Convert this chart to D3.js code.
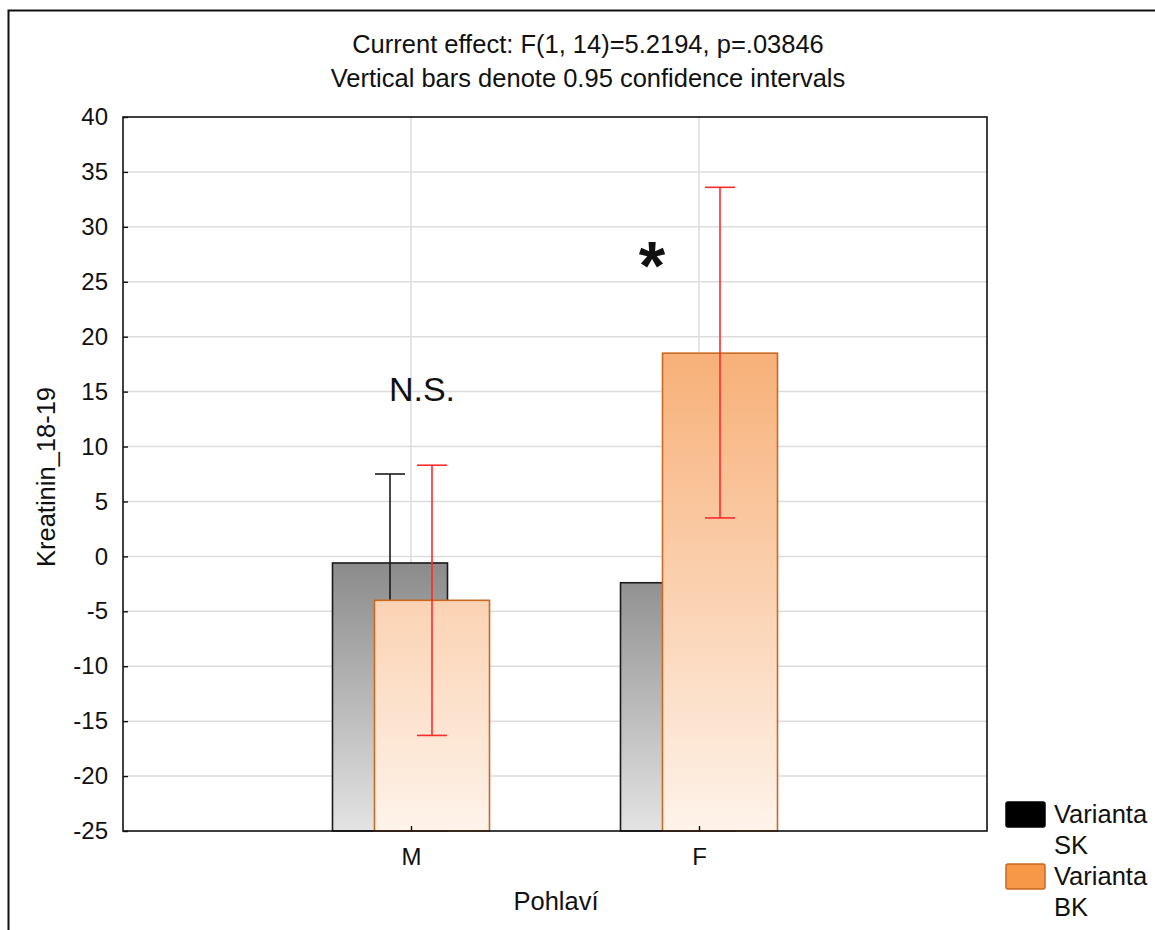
<!DOCTYPE html>
<html>
<head>
<meta charset="utf-8">
<script src="https://cdn.jsdelivr.net/npm/d3@7"></script>
<style>
  html, body { margin: 0; padding: 0; background: #fff; }
  svg { display: block; font-family: "Liberation Sans", Arial, sans-serif; }
</style>
</head>
<body>
<svg id="chart" width="1155" height="930"></svg>
<script>
// Data: group means with 0.95 confidence intervals
const categories = ["M", "F"];
const seriesNames = ["Varianta SK", "Varianta BK"];
const meansSK = [-0.6, -2.4];
const ciLowSK = [-8.7, -10.5];
const ciHighSK = [7.5, 5.7];
const meansBK = [-4.0, 18.5];
const ciLowBK = [-16.3, 3.5];
const ciHighBK = [8.3, 33.6];
const yTicks = [-25, -20, -15, -10, -5, 0, 5, 10, 15, 20, 25, 30, 35, 40];
const titleLines = ["Current effect: F(1, 14)=5.2194, p=.03846",
                    "Vertical bars denote 0.95 confidence intervals"];
const annotations = [{cat: "M", text: "N.S."}, {cat: "F", text: "*"}];

const FS = 24;     // tick labels
const FT = 25.5;   // titles and legend
const svg = d3.select("#chart");
const plot = {left: 123, top: 117, right: 987, bottom: 831};

const x = d3.scalePoint().domain(categories).range([plot.left, plot.right]).padding(1);
const y = d3.scaleLinear().domain([-25, 40]).range([plot.bottom, plot.top]);
const offset = d3.scaleOrdinal().domain(seriesNames).range([-21, 21]);
const barW = 115;

const series = [
  {name: seriesNames[0], means: meansSK, lo: ciLowSK, hi: ciHighSK,
   stroke: "#1a1a1a", err: "#1a1a1a", grad: ["#8b8b8b", "#e3e3e3"], id: "gSK"},
  {name: seriesNames[1], means: meansBK, lo: ciLowBK, hi: ciHighBK,
   stroke: "#c86a22", err: "#ff2a2a", grad: ["#f7b078", "#fef3ea"], id: "gBK"}
];

// Outer frame
svg.append("rect").attr("x", 8.5).attr("y", 10.5).attr("width", 1200).attr("height", 1000)
  .attr("fill", "none").attr("stroke", "#111").attr("stroke-width", 2);

// Gradients for the bars
const defs = svg.append("defs");
series.forEach(s => {
  const g = defs.append("linearGradient").attr("id", s.id)
    .attr("gradientUnits", "userSpaceOnUse")
    .attr("x1", 0).attr("x2", 0)
    .attr("y1", y(d3.max(s.means))).attr("y2", y(-25));
  g.append("stop").attr("offset", 0).attr("stop-color", s.grad[0]);
  g.append("stop").attr("offset", 1).attr("stop-color", s.grad[1]);
});

// Title
svg.append("g").selectAll("text").data(titleLines).join("text")
  .attr("x", 588).attr("y", (d, i) => 53 + i * 34)
  .attr("text-anchor", "middle").attr("font-size", FT).attr("fill", "#111")
  .text(d => d);

// Grid
const grid = svg.append("g").attr("stroke", "#dcdcdc").attr("stroke-width", 1.5);
grid.selectAll("line.h").data(yTicks.filter(t => t > -25 && t < 40)).join("line")
  .attr("x1", plot.left).attr("x2", plot.right)
  .attr("y1", d => y(d)).attr("y2", d => y(d));
grid.selectAll("line.v").data(categories).join("line")
  .attr("x1", d => x(d)).attr("x2", d => x(d))
  .attr("y1", plot.top).attr("y2", plot.bottom);

// Bars and error bars, series in drawing order
series.forEach(s => {
  const g = svg.append("g");
  g.selectAll("rect").data(categories).join("rect")
    .attr("x", (c) => x(c) + offset(s.name) - barW / 2)
    .attr("width", barW)
    .attr("y", (c, i) => y(s.means[i]))
    .attr("height", (c, i) => y(-25) - y(s.means[i]))
    .attr("fill", `url(#${s.id})`)
    .attr("stroke", s.stroke).attr("stroke-width", 1.6);
  const e = g.append("g").attr("stroke", s.err).attr("stroke-width", 1.6);
  categories.forEach((c, i) => {
    const cx = x(c) + offset(s.name);
    e.append("line").attr("x1", cx).attr("x2", cx).attr("y1", y(s.lo[i])).attr("y2", y(s.hi[i]));
    e.append("line").attr("x1", cx - 15).attr("x2", cx + 15).attr("y1", y(s.hi[i])).attr("y2", y(s.hi[i]));
    e.append("line").attr("x1", cx - 15).attr("x2", cx + 15).attr("y1", y(s.lo[i])).attr("y2", y(s.lo[i]));
  });
});

// Plot frame
svg.append("rect").attr("x", plot.left).attr("y", plot.top)
  .attr("width", plot.right - plot.left).attr("height", plot.bottom - plot.top)
  .attr("fill", "none").attr("stroke", "#111").attr("stroke-width", 1.6);

// Y axis (ticks point inward)
const yAxis = svg.append("g").attr("transform", `translate(${plot.left},0)`)
  .call(d3.axisLeft(y).tickValues(yTicks).tickFormat(d => String(d))
    .tickSize(-5).tickPadding(15).tickSizeOuter(0));
yAxis.select(".domain").remove();
yAxis.selectAll("line").attr("stroke", "#111").attr("stroke-width", 1.4);
yAxis.selectAll("text").attr("font-size", FS).attr("fill", "#111")
  .attr("font-family", "Liberation Sans, Arial, sans-serif");

// X axis (ticks point inward)
const xAxis = svg.append("g").attr("transform", `translate(0,${plot.bottom})`)
  .call(d3.axisBottom(x).tickSize(-5).tickPadding(17).tickSizeOuter(0));
xAxis.select(".domain").remove();
xAxis.selectAll("line").attr("stroke", "#111").attr("stroke-width", 1.4);
xAxis.selectAll("text").attr("font-size", FS).attr("fill", "#111")
  .attr("font-family", "Liberation Sans, Arial, sans-serif");

// Axis titles
svg.append("text").attr("x", 556).attr("y", 910).attr("text-anchor", "middle")
  .attr("font-size", FT).attr("fill", "#111").text("Pohlaví");
svg.append("text").attr("transform", "translate(55,477) rotate(-90)")
  .attr("text-anchor", "middle").attr("font-size", FT).attr("fill", "#111")
  .text("Kreatinin_18-19");

// Significance annotations
svg.append("text").attr("x", x("M") + 11).attr("y", 401).attr("text-anchor", "middle")
  .attr("font-size", 34).attr("fill", "#111").text(annotations[0].text);
svg.append("text").attr("x", x("F") - 47).attr("y", 289).attr("text-anchor", "middle")
  .attr("font-size", 68).attr("font-weight", "bold").attr("fill", "#111").text(annotations[1].text);

// Legend
const legend = svg.append("g");
const swatch = [{fill: "#000", stroke: "#000"}, {fill: "#f79748", stroke: "#c86a22"}];
seriesNames.forEach((name, i) => {
  const gy = 802 + i * 62;
  legend.append("rect").attr("x", 1006).attr("y", gy).attr("width", 39).attr("height", 25)
    .attr("rx", 2).attr("fill", swatch[i].fill).attr("stroke", swatch[i].stroke).attr("stroke-width", 1.5);
  const parts = name.split(" ");
  parts.forEach((p, j) => {
    legend.append("text").attr("x", 1054).attr("y", gy + 21 + j * 31)
      .attr("font-size", FT).attr("fill", "#111").text(p);
  });
});
</script>
</body>
</html>
